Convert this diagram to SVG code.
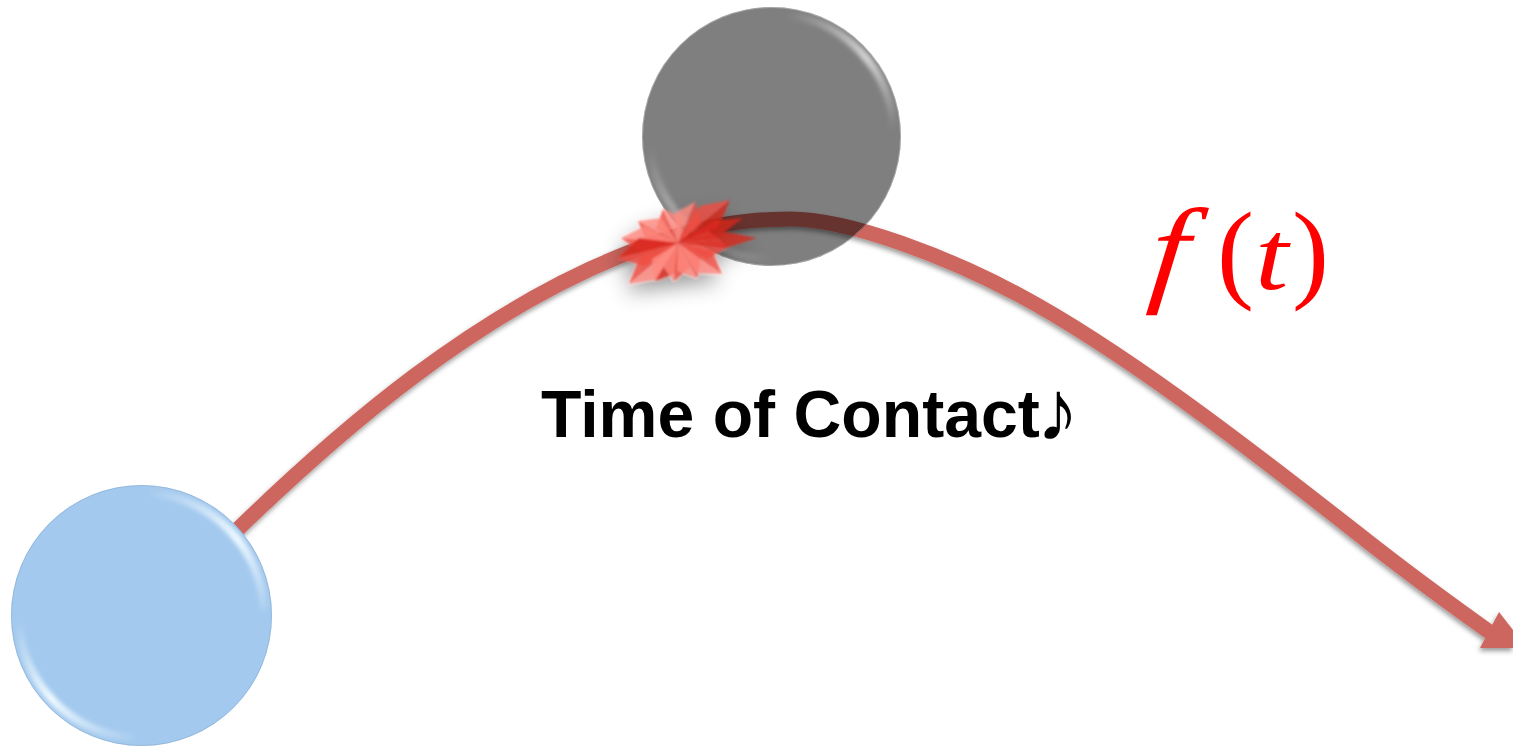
<svg xmlns="http://www.w3.org/2000/svg" width="1513" height="747" viewBox="0 0 1513 747">
<defs>
<filter id="sh" x="-5%" y="-5%" width="110%" height="115%"><feDropShadow dx="-1" dy="3" stdDeviation="2.5" flood-color="#000" flood-opacity=".4"/></filter>
<filter id="starsh" x="-50%" y="-50%" width="200%" height="220%"><feDropShadow dx="-3" dy="10" stdDeviation="10" flood-color="#000" flood-opacity=".42"/></filter>
<filter id="b3" x="-30%" y="-30%" width="160%" height="160%"><feGaussianBlur stdDeviation="2"/></filter>
<filter id="b05" x="-30%" y="-30%" width="160%" height="160%"><feGaussianBlur stdDeviation=".8"/></filter>
<clipPath id="cg"><circle cx="771.5" cy="136.5" r="129.5"/></clipPath>
<clipPath id="cb"><circle cx="141.5" cy="615.5" r="130.5"/></clipPath>
<linearGradient id="hgA" gradientUnits="userSpaceOnUse" x1="790" y1="12" x2="897" y2="125"><stop offset="0" stop-color="#fff" stop-opacity="0"/><stop offset=".55" stop-color="#fff" stop-opacity=".65"/><stop offset="1" stop-color="#fff" stop-opacity="0"/></linearGradient>
<linearGradient id="hgB" gradientUnits="userSpaceOnUse" x1="648" y1="150" x2="770" y2="260"><stop offset="0" stop-color="#fff" stop-opacity="0"/><stop offset=".5" stop-color="#fff" stop-opacity=".45"/><stop offset="1" stop-color="#fff" stop-opacity="0"/></linearGradient>
<linearGradient id="hbA" gradientUnits="userSpaceOnUse" x1="145" y1="490" x2="268" y2="620"><stop offset="0" stop-color="#eef9ff" stop-opacity="0"/><stop offset=".55" stop-color="#eef9ff"/><stop offset="1" stop-color="#eef9ff" stop-opacity="0"/></linearGradient>
<linearGradient id="hbB" gradientUnits="userSpaceOnUse" x1="18" y1="620" x2="140" y2="742"><stop offset="0" stop-color="#eef9ff" stop-opacity="0"/><stop offset=".45" stop-color="#eef9ff"/><stop offset="1" stop-color="#eef9ff" stop-opacity="0"/></linearGradient>
</defs>
<style>
.L{fill:#ff8a80;opacity:.8}
.M{fill:#f04c42;opacity:.8}
.D{fill:#d9261b;opacity:.8}
.rim{fill:none;stroke-width:8;filter:url(#b3)}
.edge{fill:none;stroke-width:1}
</style>
<rect width="1513" height="747" fill="#fff"/>
<g id="connectors">
<g filter="url(#sh)">
<path d="M236 531C345 425 475 315 620 256C680 231 730 219 790 219C850 219 950 258 1019 295C1120 349 1245 445 1357 533C1405 571 1450 604 1498 638" fill="none" stroke="#cd665f" stroke-width="15"/>
<polygon points="1499,612 1480,648 1513,648 1513,630" fill="#cd665f"/>
</g>
</g>
<g id="node-contact-ball">
<circle cx="771.500" cy="136.500" r="129.500" fill="#000" fill-opacity=".5"/>
<g clip-path="url(#cg)">
<path d="M786 14A123 123 0 0 1 894 130" class="rim" stroke="url(#hgA)"/>
<path d="M650 150A123 123 0 0 0 770 259" class="rim" stroke="url(#hgB)"/>
</g>
<circle cx="771.500" cy="136.500" r="129" class="edge" stroke="#fff" stroke-opacity=".3"/>
</g>
<g id="node-start-ball">
<circle cx="141.500" cy="615.500" r="130.500" fill="#a3c9ee"/>
<g clip-path="url(#cb)">
<path d="M150 493A123 123 0 0 1 264 610" class="rim" stroke="url(#hbA)"/>
<path d="M19 625A123 123 0 0 0 135 738" class="rim" stroke="url(#hbB)"/>
</g>
<circle cx="141.500" cy="615.500" r="130" class="edge" stroke="#7f9fc0" stroke-opacity=".4"/>
</g>
<g id="node-impact" filter="url(#starsh)">
<g filter="url(#b05)">
<polygon class="L" points="663,209 678,243 682,217"/><polygon class="M" points="663,209 678,243 656,229"/>
<polygon class="L" points="695,202 678,243 675,213"/><polygon class="M" points="695,202 678,243 701,223"/>
<polygon class="M" points="730,200 678,243 700,206"/><polygon class="D" points="730,200 678,243 718,228"/>
<polygon class="L" points="638,221 678,243 661,218"/><polygon class="M" points="638,221 678,243 647,242"/>
<polygon class="L" points="621,238 678,243 645,226"/><polygon class="M" points="621,238 678,243 643,254"/>
<polygon class="D" points="618,258 678,243 639,238"/><polygon class="M" points="618,258 678,243 645,266"/>
<polygon class="M" points="629,284 678,243 640,257"/><polygon class="L" points="629,284 678,243 658,279"/>
<polygon class="L" points="655,281 678,243 652,259"/><polygon class="D" points="655,281 678,243 676,273"/>
<polygon class="L" points="674,281 678,243 662,265"/><polygon class="M" points="674,281 678,243 690,267"/>
<polygon class="L" points="697,278 678,243 677,271"/><polygon class="M" points="697,278 678,243 701,257"/>
<polygon class="L" points="722,274 678,243 696,273"/><polygon class="M" points="722,274 678,243 712,251"/>
<polygon class="M" points="728,247 678,243 707,259"/><polygon class="L" points="728,247 678,243 709,231"/>
<polygon class="D" points="757,238 678,243 725,232"/><polygon class="D" points="757,238 678,243 725,248"/>
<polygon class="D" points="743,218 678,243 714,221"/><polygon class="D" points="743,218 678,243 720,235"/>
</g>
</g>
<g id="label-contact"><text x="541" y="437" font-family="'Liberation Sans',Arial,sans-serif" font-weight="700" font-size="66.2" fill="#000">Time of Contact<tspan x="1036" dy="2.5" font-size="86">♪</tspan></text></g>
<g id="label-function" font-family="'Liberation Serif','Times New Roman',serif" fill="#f00" font-size="111">
<text transform="translate(1147 290) skewX(-6) scale(1.15 1)" font-size="118" font-style="italic">f</text>
<text x="1217" y="288">(</text>
<text transform="translate(1255 289) scale(1.2 1)" font-size="100" font-style="italic">t</text>
<text x="1292" y="288">)</text>
</g>
</svg>
